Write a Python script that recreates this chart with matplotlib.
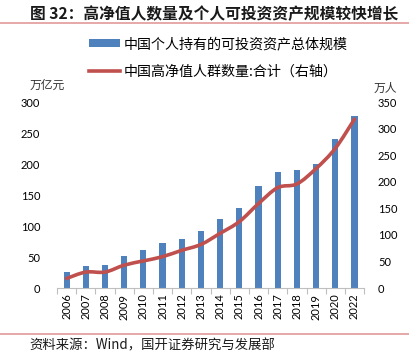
import numpy as np
import matplotlib.pyplot as plt
from matplotlib.path import Path
from matplotlib.patches import PathPatch
from matplotlib.lines import Line2D
from matplotlib.patches import Patch

plt.rcParams['font.family'] = ['Noto Sans CJK SC', 'DejaVu Sans']

years = ['2006', '2007', '2008', '2009', '2010', '2011', '2012', '2013',
         '2014', '2015', '2016', '2017', '2018', '2019', '2020', '2022']
assets = [26, 36, 37, 52, 62, 72, 79, 92, 112, 129, 165, 188, 190, 200, 241, 278]
hnw_people = [18, 30, 30, 43, 51, 59, 71, 82, 103, 125, 159, 189, 196, 225, 263, 318]

bar_color = '#4F81BD'
line_color = '#C0504D'
sep_color = '#E39A9A'
num_font = ['Lato', 'DejaVu Sans']


def smooth_path(x, y):
    # Excel-style smoothed line: Catmull-Rom segments drawn as cubic Beziers
    pts = np.column_stack([x, y]).astype(float)
    verts = [pts[0]]
    codes = [Path.MOVETO]
    n = len(pts)
    for i in range(n - 1):
        p0 = pts[max(i - 1, 0)]
        p1 = pts[i]
        p2 = pts[i + 1]
        p3 = pts[min(i + 2, n - 1)]
        c1 = p1 + (p2 - p0) / 6.0
        c2 = p2 - (p3 - p1) / 6.0
        verts += [c1, c2, p2]
        codes += [Path.CURVE4] * 3
    return Path(verts, codes)


fig = plt.figure(figsize=(4.1, 3.56), dpi=100)
ax = fig.add_axes([0.139, 0.191, 0.749, 0.522])
x = np.arange(len(years))
ax.bar(x, assets, width=0.32, color=bar_color, zorder=2)
ax.set_xlim(-0.5, len(years) - 0.5)
ax.set_ylim(0, 300)
ax.set_yticks(range(0, 301, 50))
ax.set_xticks(x)
ax.set_xticklabels(years, rotation=90, fontsize=8, family=num_font)
ax.tick_params(axis='x', length=0, pad=4)
ax.set_xticks(np.arange(-0.5, len(years), 1), minor=True)
ax.tick_params(axis='x', which='minor', length=4, color='#BFBFBF', width=0.8)
ax.tick_params(axis='y', length=0, pad=12)
for lab in ax.get_yticklabels():
    lab.set_fontsize(8)
    lab.set_family(num_font)
for s in ['top', 'right', 'left']:
    ax.spines[s].set_visible(False)
ax.spines['bottom'].set_color('#BFBFBF')
ax.spines['bottom'].set_linewidth(0.8)

ax2 = ax.twinx()
ax2.set_ylim(0, 350)
ax2.set_yticks(range(0, 351, 50))
ax2.tick_params(axis='y', length=0, pad=10)
for lab in ax2.get_yticklabels():
    lab.set_fontsize(8)
    lab.set_family(num_font)
for s in ['top', 'right', 'left', 'bottom']:
    ax2.spines[s].set_visible(False)
ax2.add_patch(PathPatch(smooth_path(x, hnw_people), facecolor='none',
                        edgecolor=line_color, lw=2.6, capstyle='round', zorder=3))

handles = [Patch(facecolor=bar_color, edgecolor='none'),
           Line2D([], [], color=line_color, lw=2.6)]
labels = ['中国个人持有的可投资资产总体规模', '中国高净值人群数量:合计（右轴）']
fig.legend(handles, labels, loc='upper left', bbox_to_anchor=(0.2, 0.915),
           frameon=False, fontsize=10.1, handlelength=2.2, handleheight=0.5,
           labelspacing=0.95, handletextpad=0.3, borderpad=0)

fig.text(0.073, 0.76, '万亿元', fontsize=8.5, va='center', color='#333333')
fig.text(0.91, 0.752, '万人', fontsize=8.5, va='center', color='#333333')

fig.text(0.072, 0.96, '图 32：高净值人数量及个人可投资资产规模较快增长',
         fontsize=11.3, va='center', color='#1A1A1A', fontweight='bold')
fig.add_artist(Line2D([0, 1], [0.935, 0.935], color=sep_color, lw=1.2,
                      transform=fig.transFigure))
fig.add_artist(Line2D([0, 1], [0.063, 0.063], color=sep_color, lw=1.2,
                      transform=fig.transFigure))
fig.text(0.072, 0.03, '资料来源：Wind，国开证券研究与发展部', fontsize=9.6,
         va='center', color='#1A1A1A')

fig.savefig('out.png', dpi=100)
